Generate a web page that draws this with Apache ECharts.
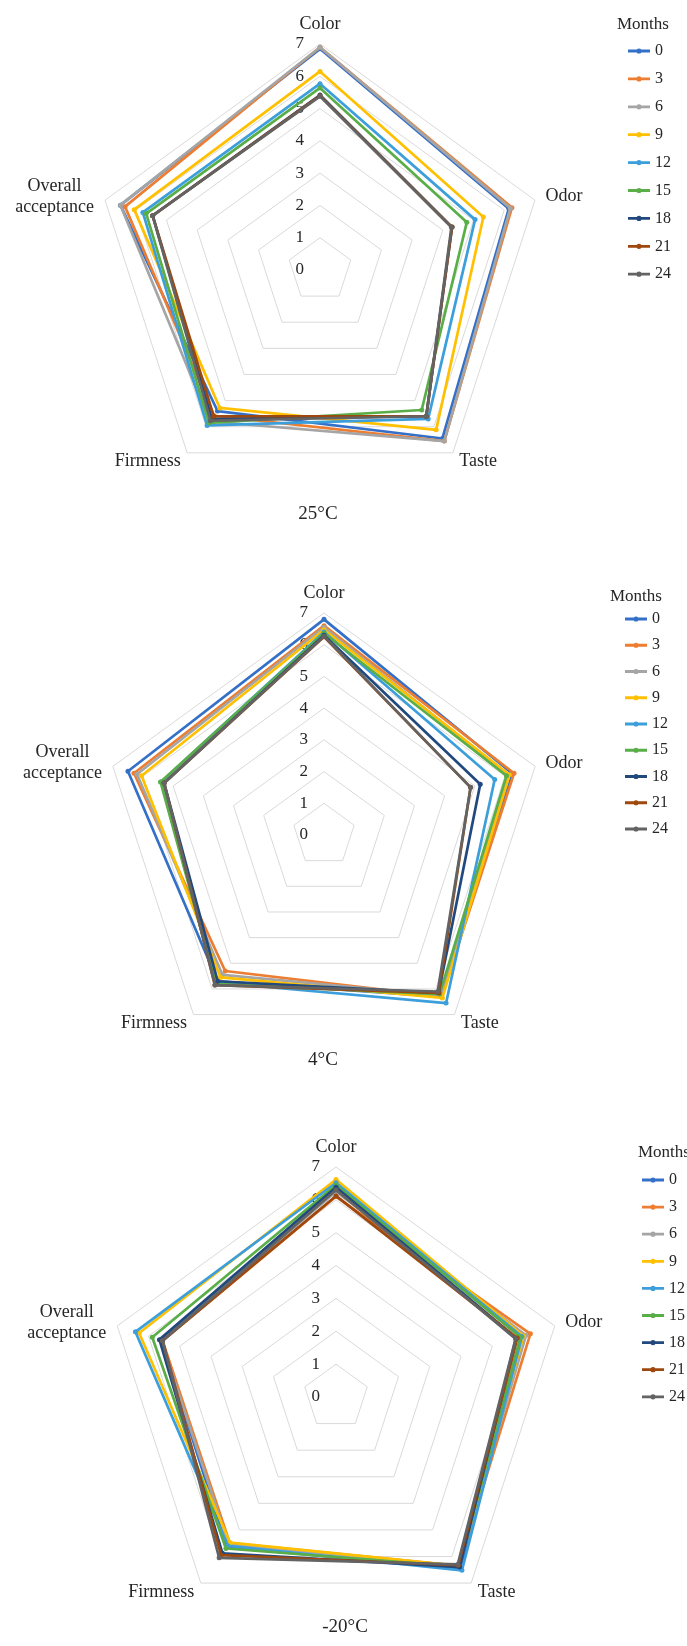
<!DOCTYPE html>
<html>
<head>
<meta charset="utf-8">
<script src="https://cdn.jsdelivr.net/npm/echarts/dist/echarts.min.js"></script>
<style>
html, body { margin: 0; padding: 0; background: #fff; }
.panel { position: absolute; left: 0; width: 687px; }
</style>
</head>
<body>
<div id="c25" class="panel" style="top:0;height:560px"></div>
<div id="c4" class="panel" style="top:560px;height:560px"></div>
<div id="cm20" class="panel" style="top:1120px;height:526px"></div>
<script>
var months = ['0', '3', '6', '9', '12', '15', '18', '21', '24'];
var attributes = ['Color', 'Odor', 'Taste', 'Firmness', 'Overall acceptance'];
var ticks = [0, 1, 2, 3, 4, 5, 6, 7];

// one row per month, columns follow `attributes`
var scores25 = [
    [6.85, 6.15, 6.45, 5.40, 6.50],
    [6.90, 6.25, 6.55, 5.58, 6.35],
    [6.90, 6.20, 6.55, 5.80, 6.50],
    [6.15, 5.32, 6.12, 5.28, 6.05],
    [5.77, 5.05, 5.70, 5.95, 5.77],
    [5.64, 4.78, 5.36, 5.85, 5.66],
    [5.42, 4.30, 5.60, 5.70, 5.45],
    [5.40, 4.30, 5.60, 5.60, 5.45],
    [5.38, 4.28, 5.60, 5.77, 5.45]
];
var scores4 = [
    [6.80, 6.25, 6.30, 5.70, 6.50],
    [6.60, 6.30, 6.30, 5.30, 6.30],
    [6.55, 6.10, 6.25, 5.45, 6.20],
    [6.47, 6.15, 6.35, 5.55, 6.05],
    [6.40, 5.66, 6.55, 5.75, 5.40],
    [6.36, 6.05, 6.20, 5.80, 5.42],
    [6.30, 5.18, 6.15, 5.70, 5.30],
    [6.25, 4.86, 6.15, 5.85, 5.30],
    [6.27, 4.86, 6.10, 5.85, 5.30]
];
var scoresMinus20 = [
    [6.40, 5.75, 6.45, 5.65, 5.60],
    [6.10, 6.22, 6.35, 5.50, 5.55],
    [6.25, 6.08, 6.35, 5.55, 5.60],
    [6.62, 6.00, 6.35, 5.48, 6.30],
    [6.52, 5.95, 6.52, 5.60, 6.42],
    [6.45, 5.90, 6.38, 5.70, 5.88],
    [6.38, 5.78, 6.40, 5.88, 5.65],
    [6.12, 5.80, 6.33, 5.95, 5.55],
    [6.30, 5.75, 6.30, 6.05, 5.55]
];

var colors = ['#3570C8', '#ED7D31', '#A5A5A5', '#FFC000', '#3C9FDC', '#5AAE47', '#22497E', '#9E480E', '#636363'];
var serif = 'Liberation Serif';
var textColor = '#262626';
// echarts lays indicators out counter-clockwise from the top
var axisOrder = [0, 4, 3, 2, 1];
var legendIcon = 'path://M0,3.6H22V6.4H0Z M13.6,5A2.6,2.6,0,1,1,8.4,5A2.6,2.6,0,1,1,13.6,5Z';

function buildOption(rows, cfg) {
    var indicator = axisOrder.map(function (k, i) {
        var ind = { name: attributes[k], min: ticks[0], max: ticks[ticks.length - 1] };
        if (i === 0) {
            ind.axisLabel = {
                show: true, showMinLabel: true, showMaxLabel: true,
                margin: 16, color: textColor, fontFamily: serif, fontSize: 17
            };
        }
        return ind;
    });

    var series = months.map(function (m, i) {
        return {
            type: 'radar',
            name: m,
            symbol: 'circle',
            symbolSize: 5,
            lineStyle: { width: 2.7, color: colors[i] },
            itemStyle: { color: colors[i] },
            z: 2 + i,
            data: [{
                name: m,
                value: axisOrder.map(function (k) { return rows[i][k]; })
            }]
        };
    });

    return {
        animation: false,
        color: colors,
        title: [
            {
                text: 'Months', left: cfg.monthsX, top: cfg.monthsY, padding: 0,
                textStyle: { fontFamily: serif, fontSize: 17, fontWeight: 'normal', color: textColor }
            },
            {
                text: cfg.title, left: cfg.titleX, top: cfg.titleY, textAlign: 'center', padding: 0,
                textStyle: { fontFamily: serif, fontSize: 19, fontWeight: 'normal', color: textColor }
            }
        ],
        legend: {
            orient: 'vertical',
            left: cfg.legendX,
            top: cfg.legendY,
            itemGap: cfg.legendGap,
            itemWidth: 22,
            itemHeight: 10,
            icon: legendIcon,
            selectedMode: false,
            padding: 0,
            textStyle: { fontFamily: serif, fontSize: 16, lineHeight: 16, color: textColor },
            data: months
        },
        radar: {
            center: [cfg.cx, cfg.cy],
            radius: cfg.r,
            startAngle: 90,
            shape: 'polygon',
            splitNumber: ticks.length - 1,
            nameGap: 11,
            axisName: {
                color: textColor,
                fontFamily: serif,
                fontSize: 18,
                formatter: function (name) {
                    if (name === 'Overall acceptance') {
                        return '{c|Overall}\n{c|acceptance}';
                    }
                    return name;
                },
                rich: {
                    c: { width: 80, align: 'center', fontFamily: serif, fontSize: 18, lineHeight: 21, color: textColor }
                }
            },
            axisLine: { show: false },
            axisTick: { show: false },
            splitLine: { lineStyle: { color: '#d9d9d9', width: 1 } },
            splitArea: { show: false },
            indicator: indicator
        },
        series: series
    };
}

var panels = [
    { id: 'c25', rows: scores25, cfg: { cx: 320, cy: 270, r: 226, title: '25°C', titleX: 318, titleY: 505,
        legendX: 628, legendY: 43, legendGap: 11.9, monthsX: 617, monthsY: 16 } },
    { id: 'c4', rows: scores4, cfg: { cx: 324, cy: 275, r: 222, title: '4°C', titleX: 323, titleY: 491,
        legendX: 625, legendY: 51, legendGap: 10.25, monthsX: 610, monthsY: 28 } },
    { id: 'cm20', rows: scoresMinus20, cfg: { cx: 336, cy: 277, r: 230, title: '-20°C', titleX: 345, titleY: 498,
        legendX: 642, legendY: 52, legendGap: 11.1, monthsX: 638, monthsY: 24 } }
];

panels.forEach(function (p) {
    var chart = echarts.init(document.getElementById(p.id), null, { renderer: 'canvas' });
    chart.setOption(buildOption(p.rows, p.cfg));
});
</script>
</body>
</html>
